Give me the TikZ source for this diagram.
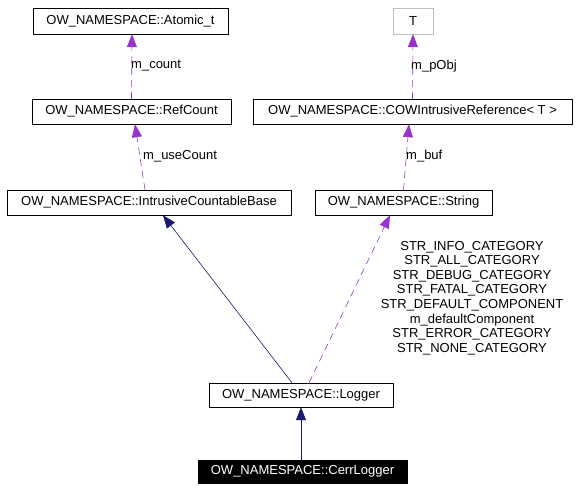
\documentclass[tikz,border=0pt]{standalone}
\usepackage{fontspec}
\setmainfont{Liberation Sans}
\usetikzlibrary{arrows.meta}
\definecolor{edgeblue}{HTML}{191970}
\definecolor{edgepurple}{HTML}{9A32CD}
\definecolor{boxgray}{HTML}{BFBFBF}
\begin{document}
\begin{tikzpicture}[x=1pt,y=-1pt,
    cls/.style={draw,thin,inner sep=0pt,font=\fontsize{13}{14.6}\selectfont},
    lbl/.style={inner sep=0pt,font=\fontsize{13}{14.6}\selectfont},
    inherit/.style={edgeblue,semithick,-{Triangle[length=13pt,width=10pt]}},
    uses/.style={edgepurple,semithick,dash pattern=on 7pt off 5pt,-{Triangle[length=13pt,width=10pt]}}]
  \useasboundingbox (0,0) rectangle (577,491);
  \draw
    (130.5,21) node[cls,minimum width=195pt,minimum height=26pt] (atomic){OW\_NAMESPACE::Atomic\_t}
    (413,21) node[cls,draw=boxgray,minimum width=40pt,minimum height=26pt] (t){T}
    (131.5,111.5) node[cls,minimum width=199pt,minimum height=25pt] (refcount){OW\_NAMESPACE::RefCount}
    (412.5,111.5) node[cls,minimum width=319pt,minimum height=25pt] (cowref){OW\_NAMESPACE::COWIntrusiveReference< T >}
    (149,202.5) node[cls,minimum width=284pt,minimum height=25pt] (countable){OW\_NAMESPACE::IntrusiveCountableBase}
    (403.5,202.5) node[cls,minimum width=177pt,minimum height=25pt] (string){OW\_NAMESPACE::String}
    (301,395) node[cls,minimum width=184pt,minimum height=24pt] (logger){OW\_NAMESPACE::Logger}
    (302.5,471.5) node[cls,fill=black,text=white,minimum width=209pt,minimum height=23pt] (cerr){OW\_NAMESPACE::CerrLogger};
  \draw
    (131,66) node[lbl,anchor=west] (lcount){m\_count}
    (143,156) node[lbl,anchor=west] (lusecount){m\_useCount}
    (411,66) node[lbl,anchor=west] (lpobj){m\_pObj}
    (406,156) node[lbl,anchor=west] (lbuf){m\_buf}
    (472,298) node[lbl,align=center] (lcategory){STR\_INFO\_CATEGORY\\STR\_ALL\_CATEGORY\\STR\_DEBUG\_CATEGORY\\STR\_FATAL\_CATEGORY\\STR\_DEFAULT\_COMPONENT\\m\_defaultComponent\\STR\_ERROR\_CATEGORY\\STR\_NONE\_CATEGORY};
  \begin{scope}[uses]
    \draw (refcount.north) to ([xshift=1.5pt]atomic.south);
    \draw ([xshift=-4pt]countable.north) to ([xshift=3.5pt]refcount.south);
    \draw (cowref.north) to (t.south);
    \draw (string.north) to ([xshift=-3.5pt]cowref.south);
    \draw ([xshift=8pt]logger.north) to ([xshift=-13.5pt]string.south);
  \end{scope}
  \begin{scope}[inherit]
    \draw ([xshift=-9pt]logger.north) to ([xshift=14pt]countable.south);
    \draw (cerr.north -| logger.south) to (logger.south);
  \end{scope}
\end{tikzpicture}
\end{document}
